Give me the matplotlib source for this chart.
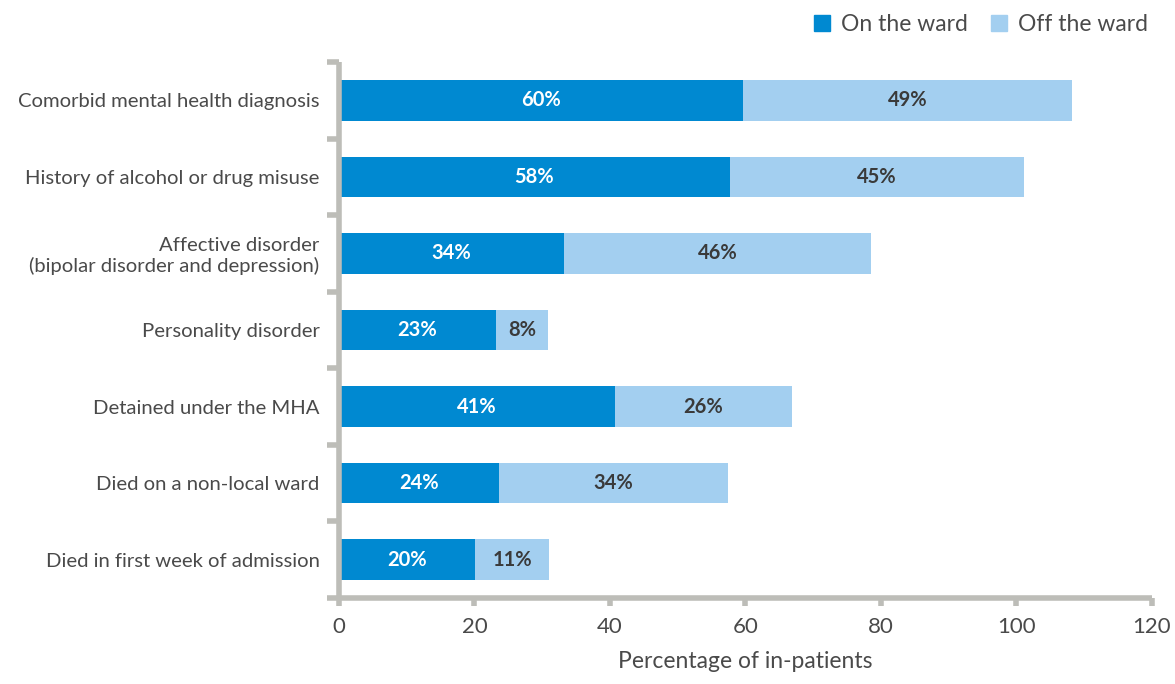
import matplotlib
matplotlib.use("Agg")
import matplotlib.pyplot as plt
from matplotlib.patches import Patch

categories = ["Comorbid mental health diagnosis",
              "History of alcohol or drug misuse",
              "Affective disorder\n(bipolar disorder and depression)",
              "Personality disorder",
              "Detained under the MHA",
              "Died on a non-local ward",
              "Died in first week of admission"]
on_ward = [59.6, 57.7, 33.2, 23.2, 40.7, 23.6, 20.1]
off_ward = [48.6, 43.4, 45.3, 7.6, 26.2, 33.8, 10.9]
on_labels = ["60%", "58%", "34%", "23%", "41%", "24%", "20%"]
off_labels = ["49%", "45%", "46%", "8%", "26%", "34%", "11%"]
xticks = [0, 20, 40, 60, 80, 100, 120]

C_ON = "#0089d1"
C_OFF = "#a3cff0"
C_AX = "#bdbdb8"
C_TXT = "#4a4a4a"

plt.rcParams['font.family'] = ['Lato', 'DejaVu Sans']

fig = plt.figure(figsize=(11.75, 6.84), dpi=100)
ax = fig.add_axes([0.2885, 0.1257, 0.6919, 0.7837])

y = list(range(len(categories)))
ax.barh(y, on_ward, height=0.53, color=C_ON, zorder=2)
ax.barh(y, off_ward, left=on_ward, height=0.53, color=C_OFF, zorder=2)

for i in y:
    ax.text(on_ward[i] / 2, i, on_labels[i], ha="center", va="center",
            color="white", fontsize=14.5, fontweight="bold")
    ax.text(on_ward[i] + off_ward[i] / 2, i, off_labels[i], ha="center", va="center",
            color="#3a3a3a", fontsize=14.5, fontweight="bold")

ax.set_xlim(0, 120)
ax.set_ylim(6.5, -0.5)
for s in ["top", "right"]:
    ax.spines[s].set_visible(False)
for s in ["left", "bottom"]:
    ax.spines[s].set_color(C_AX)
    ax.spines[s].set_linewidth(4)
    ax.spines[s].set_capstyle("butt")

ax.set_xticks(xticks)
ax.set_xticklabels([str(t) for t in xticks])
ax.tick_params(axis="x", length=6, width=4, color=C_AX, labelsize=16,
               labelcolor=C_TXT, pad=8)
ax.set_yticks(y)
ax.set_yticklabels(categories, fontsize=14.6, color=C_TXT, linespacing=1.15)
ax.tick_params(axis="y", which="major", length=0, pad=14)
ax.set_yticks([i - 0.5 for i in range(len(categories) + 1)], minor=True)
ax.tick_params(axis="y", which="minor", length=9, width=4, color=C_AX)

ax.set_xlabel("Percentage of in-patients", fontsize=16.5, color=C_TXT, labelpad=10)

handles = [Patch(color=C_ON, label="On the ward"), Patch(color=C_OFF, label="Off the ward")]
fig.legend(handles=handles, loc="upper right", bbox_to_anchor=(0.995, 1.01), ncol=2,
           frameon=False, fontsize=16.5, handlelength=0.7, handleheight=0.7,
           handletextpad=0.5, columnspacing=1.0, labelcolor=C_TXT)

fig.savefig("out.png", dpi=100)
